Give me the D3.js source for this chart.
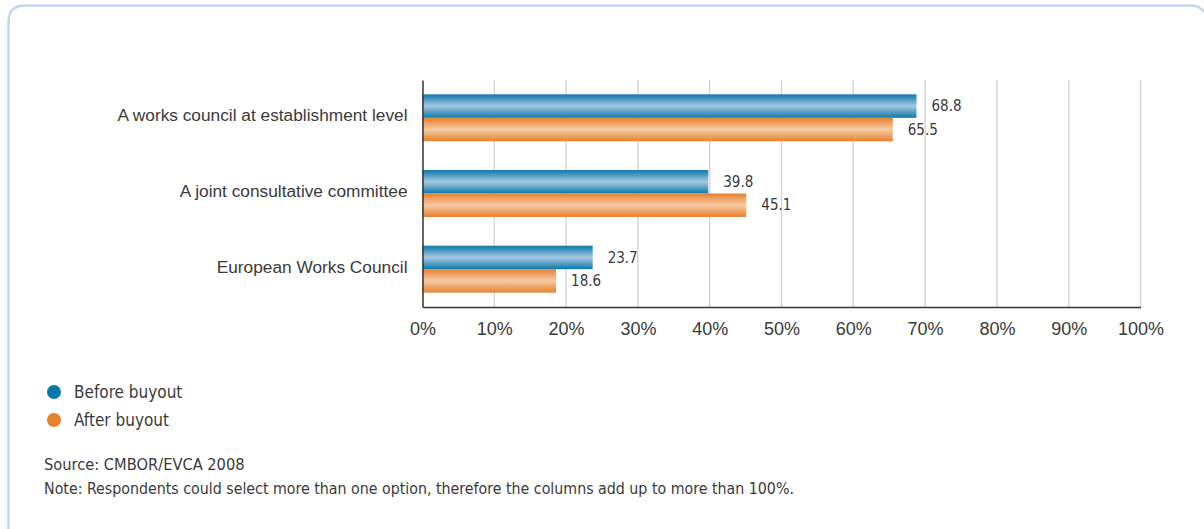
<!DOCTYPE html>
<html><head><meta charset="utf-8">
<script src="https://cdn.jsdelivr.net/npm/d3@7"></script>
<style>
html,body{margin:0;padding:0;background:#fff;}
svg{display:block;font-family:"DejaVu Sans Condensed",sans-serif;}
</style></head>
<body>
<svg id="chart" width="1204" height="529"></svg>
<script>
const categories = ["A works council at establishment level","A joint consultative committee","European Works Council"];
const seriesNames = ["Before buyout","After buyout"];
const before = [68.8, 39.8, 23.7];
const after = [65.5, 45.1, 18.6];
const xTicks = [0,10,20,30,40,50,60,70,80,90,100];
const sourceText = "Source: CMBOR/EVCA 2008";
const noteText = "Note: Respondents could select more than one option, therefore the columns add up to more than 100%.";

(function(){
const colors = {dark:["#0b78aa","#e6812c"], light:["#a6c9e2","#f7cba6"]};
const svg = d3.select("#chart");

svg.append("path")
  .attr("d","M8.5,529 L8.5,22 Q8.5,5.5 25,5.5 L1190,5.5 Q1200,5.5 1204,12")
  .attr("fill","none").attr("stroke","#c4d6ea").attr("stroke-width",2.5);

const defs = svg.append("defs");
[0,1].forEach(i=>{
  const g = defs.append("linearGradient").attr("id","g"+i).attr("x1",0).attr("x2",0).attr("y1",0).attr("y2",1);
  g.append("stop").attr("offset","0%").attr("stop-color",colors.dark[i]);
  g.append("stop").attr("offset","50%").attr("stop-color",colors.light[i]);
  g.append("stop").attr("offset","100%").attr("stop-color",colors.dark[i]);
});

const L=422.5, R=1140.5, T=80, B=307;
const x = d3.scaleLinear().domain([0,100]).range([L,R]);
const y = d3.scaleBand().domain(categories).range([T,B]).paddingInner(0.38).paddingOuter(0.19);
const y1 = d3.scaleBand().domain([0,1]).range([0,y.bandwidth()]);

svg.append("g").selectAll("line").data(xTicks.slice(1)).join("line")
  .attr("x1",d=>x(d)).attr("x2",d=>x(d)).attr("y1",T).attr("y2",B)
  .attr("stroke","#d6d6d6").attr("stroke-width",1.5);

const data = categories.map((c,i)=>({c, vals:[before[i], after[i]]}));
const grp = svg.append("g").selectAll("g").data(data).join("g")
  .attr("transform",d=>`translate(0,${y(d.c)})`);
grp.selectAll("rect").data(d=>d.vals.map((v,k)=>({v,k}))).join("rect")
  .attr("x",x(0)).attr("y",d=>y1(d.k)).attr("height",y1.bandwidth())
  .attr("width",d=>x(d.v)-x(0)).attr("fill",d=>`url(#g${d.k})`);
grp.selectAll("text").data(d=>d.vals.map((v,k)=>({v,k}))).join("text")
  .attr("x",d=>x(d.v)+15).attr("y",d=>y1(d.k)+y1.bandwidth()/2)
  .attr("dy","0.35em").attr("font-size",15).attr("fill","#3a3a3a")
  .text(d=>d.v.toFixed(1));

const xAxis = d3.axisBottom(x).tickValues(xTicks).tickFormat(d=>d+"%").tickSize(0).tickPadding(15);
const gx = svg.append("g").attr("transform",`translate(0,${B})`).call(xAxis);
gx.select(".domain").attr("stroke","#333").attr("stroke-width",1.5);
gx.selectAll("text").attr("font-size",18).attr("fill","#3a3a3a").attr("font-family","inherit");

const yAxis = d3.axisLeft(y).tickSize(0).tickPadding(15);
const gy = svg.append("g").attr("transform",`translate(${L},0)`).call(yAxis);
gy.select(".domain").attr("stroke","#333").attr("stroke-width",1.5);
gy.selectAll("text").attr("font-size",17.3).attr("fill","#3a3a3a").attr("font-family","inherit").attr("dy","0.2em");

const lg = svg.append("g").selectAll("g").data(seriesNames).join("g")
  .attr("transform",(d,i)=>`translate(54,${392+i*28})`);
lg.append("circle").attr("r",7).attr("fill",(d,i)=>colors.dark[i]);
lg.append("text").attr("x",20).attr("dy","0.35em").attr("font-size",17).attr("fill","#3a3a3a").text(d=>d);

svg.append("text").attr("x",44).attr("y",464).attr("dy","0.35em").attr("font-size",16.3).attr("fill","#3a3a3a").text(sourceText);
svg.append("text").attr("x",44).attr("y",488).attr("dy","0.35em").attr("font-size",15.8).attr("fill","#3a3a3a").text(noteText);
})();
</script>
</body></html>
